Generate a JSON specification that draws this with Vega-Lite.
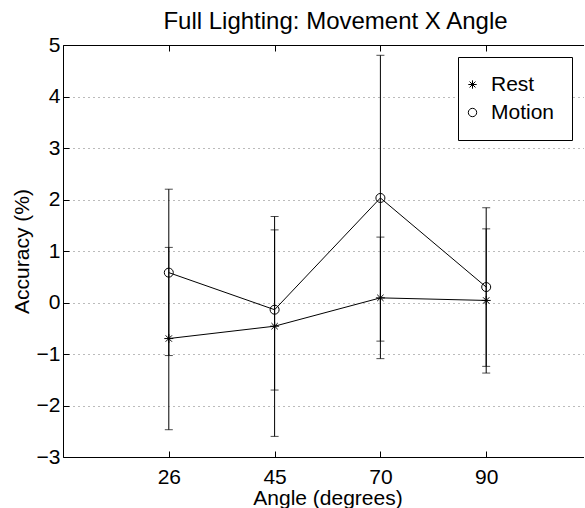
{
  "$schema": "https://vega.github.io/schema/vega-lite/v6.json",
  "autosize": {"type": "none"},
  "padding": {"left": 63, "top": 45, "right": 0, "bottom": 51},
  "width": 521,
  "height": 412,
  "background": "white",
  "title": {"text": "Full Lighting: Movement X Angle", "fontSize": 24, "font": "Liberation Sans", "fontWeight": "normal", "color": "black", "offset": 0, "dx": 12},
  "config": {
    "font": "Liberation Sans",
    "view": {"stroke": null},
    "axis": {"labelFontSize": 21, "titleFontSize": 21, "titleFontWeight": "normal", "labelColor": "black", "titleColor": "black", "tickColor": "black", "domainColor": "black", "labelFont": "Liberation Sans", "titleFont": "Liberation Sans"}
  },
  "data": {"values": [
    {"angle": 26, "series": "Rest", "mean": -0.70, "lo": -2.47, "hi": 1.07},
    {"angle": 26, "series": "Motion", "mean": 0.58, "lo": -1.03, "hi": 2.20},
    {"angle": 45, "series": "Rest", "mean": -0.46, "lo": -2.60, "hi": 1.67},
    {"angle": 45, "series": "Motion", "mean": -0.14, "lo": -1.70, "hi": 1.41},
    {"angle": 70, "series": "Rest", "mean": 0.09, "lo": -1.09, "hi": 1.27},
    {"angle": 70, "series": "Motion", "mean": 2.03, "lo": -0.75, "hi": 4.80},
    {"angle": 90, "series": "Rest", "mean": 0.04, "lo": -1.37, "hi": 1.43},
    {"angle": 90, "series": "Motion", "mean": 0.30, "lo": -1.24, "hi": 1.84}
  ]},
  "resolve": {"axis": {"x": "independent"}},
  "layer": [
    {
      "mark": {"type": "rule", "color": "black", "strokeWidth": 1},
      "encoding": {
        "x": {"field": "angle", "type": "ordinal", "sort": [26, 45, 70, 90],
              "scale": {"type": "point", "padding": 1, "range": [0, 529]},
              "axis": {"orient": "bottom", "title": "Angle (degrees)", "labelAngle": 0, "tickSize": -6, "labelPadding": 15, "titlePadding": 0, "domain": true, "grid": false}},
        "y": {"field": "lo", "type": "quantitative",
              "scale": {"domain": [-3, 5], "nice": false, "zero": false},
              "axis": {"title": "Accuracy (%)", "values": [-3, -2, -1, 0, 1, 2, 3, 4, 5], "tickSize": -6, "labelPadding": 9, "titlePadding": 4, "grid": true, "gridDash": [1, 4], "gridColor": "#555", "gridOpacity": 0.8, "domain": true}},
        "y2": {"field": "hi"}
      }
    },
    {
      "mark": {"type": "tick", "color": "black", "thickness": 1, "size": 8},
      "encoding": {
        "x": {"field": "angle", "type": "ordinal", "sort": [26, 45, 70, 90],
              "axis": {"orient": "top", "title": null, "labels": false, "tickSize": -6, "domain": true, "grid": false}},
        "y": {"field": "hi", "type": "quantitative"}
      }
    },
    {
      "mark": {"type": "tick", "color": "black", "thickness": 1, "size": 8},
      "encoding": {
        "x": {"field": "angle", "type": "ordinal", "sort": [26, 45, 70, 90], "axis": null},
        "y": {"field": "lo", "type": "quantitative"}
      }
    },
    {
      "mark": {"type": "line", "color": "black", "strokeWidth": 1},
      "encoding": {
        "x": {"field": "angle", "type": "ordinal", "sort": [26, 45, 70, 90], "axis": null},
        "y": {"field": "mean", "type": "quantitative"},
        "detail": {"field": "series"}
      }
    },
    {
      "mark": {"type": "point", "color": "black", "filled": false, "strokeWidth": 1, "size": 81, "opacity": 1},
      "encoding": {
        "x": {"field": "angle", "type": "ordinal", "sort": [26, 45, 70, 90], "axis": null},
        "y": {"field": "mean", "type": "quantitative"},
        "shape": {"field": "series", "type": "nominal",
                  "scale": {"domain": ["Rest", "Motion"], "range": ["M-1,0L1,0M0,-1L0,1M-0.7,-0.7L0.7,0.7M-0.7,0.7L0.7,-0.7", "circle"]},
                  "legend": {"title": null, "orient": "none", "legendX": 395, "legendY": 12, "padding": 17, "strokeColor": "black", "fillColor": "white", "labelFontSize": 21, "labelColor": "black", "labelFont": "Liberation Sans", "labelOffset": 8, "symbolOffset": -13, "symbolSize": 70, "symbolStrokeColor": "black", "symbolStrokeWidth": 1, "symbolFillColor": "transparent", "rowPadding": 6, "labelExpr": "datum.label + '  '"}}
      }
    }
  ]
}
